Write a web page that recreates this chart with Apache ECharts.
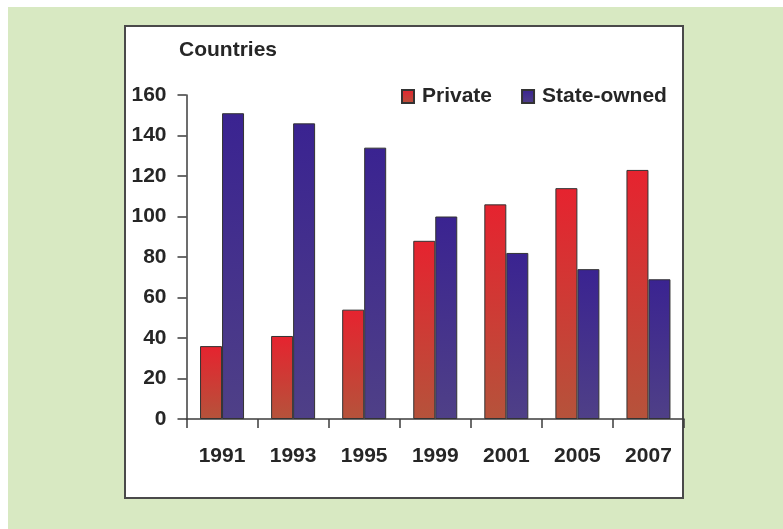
<!DOCTYPE html>
<html>
<head>
<meta charset="utf-8">
<script src="https://cdn.jsdelivr.net/npm/echarts@6/dist/echarts.min.js"></script>
<style>
  html, body { margin: 0; padding: 0; background: #ffffff; }
  #chart { width: 783px; height: 529px; }
</style>
</head>
<body>
<div id="chart"></div>
<script>
// Number of countries with private vs state-owned operators, by year
const years = ['1991', '1993', '1995', '1999', '2001', '2005', '2007'];
const privateCounts = [36, 41, 54, 88, 106, 114, 123];
const stateOwnedCounts = [151, 146, 134, 100, 82, 74, 69];
const yTicks = { min: 0, max: 160, interval: 20 };

const FONT = '"Liberation Sans", Arial, sans-serif';
const TEXT = '#262626';
const AXIS = '#3c3c3c';

const redFill = new echarts.graphic.LinearGradient(0, 0, 0, 1, [
  { offset: 0, color: '#e6232f' },
  { offset: 1, color: '#b5533b' }
]);
const blueFill = new echarts.graphic.LinearGradient(0, 0, 0, 1, [
  { offset: 0, color: '#3a2391' },
  { offset: 1, color: '#4f4087' }
]);

const chart = echarts.init(document.getElementById('chart'), null, { renderer: 'canvas' });

chart.setOption({
  animation: false,
  backgroundColor: '#ffffff',
  graphic: [
    { type: 'rect', z: -10, shape: { x: 8, y: 7, width: 775, height: 522 }, style: { fill: '#d8e9c2' } },
    { type: 'rect', z: -9, shape: { x: 125, y: 26, width: 558, height: 472 },
      style: { fill: '#ffffff', stroke: '#4a4a4a', lineWidth: 2 } },
    { type: 'text', left: 179, top: 40,
      style: { text: 'Countries', font: 'bold 21px ' + FONT, fill: TEXT } }
  ],
  legend: {
    left: 401, top: 86, padding: 0,
    itemWidth: 12, itemHeight: 13, itemGap: 29,
    icon: 'rect',
    textStyle: { fontFamily: FONT, fontWeight: 'bold', fontSize: 21, color: TEXT, padding: [0, 0, 0, 3] },
    data: ['Private', 'State-owned']
  },
  grid: { left: 186.5, right: 99, top: 95, bottom: 110, containLabel: false },
  xAxis: {
    type: 'category',
    data: years,
    boundaryGap: true,
    axisLine: { show: true, lineStyle: { color: AXIS, width: 1.5 } },
    axisTick: { show: true, alignWithLabel: false, interval: 0, length: 9, lineStyle: { color: AXIS, width: 1.5 } },
    axisLabel: { margin: 27, fontFamily: FONT, fontWeight: 'bold', fontSize: 21, color: TEXT }
  },
  yAxis: {
    type: 'value',
    min: yTicks.min, max: yTicks.max, interval: yTicks.interval,
    axisLine: { show: true, lineStyle: { color: AXIS, width: 1.5 } },
    axisTick: { show: true, length: 9, lineStyle: { color: AXIS, width: 1.5 } },
    splitLine: { show: false },
    axisLabel: { margin: 20, fontFamily: FONT, fontWeight: 'bold', fontSize: 21, color: TEXT }
  },
  series: [
    {
      name: 'Private', type: 'bar', data: privateCounts,
      barWidth: 22, barGap: '0%',
      itemStyle: { color: redFill, borderColor: '#333333', borderWidth: 1 }
    },
    {
      name: 'State-owned', type: 'bar', data: stateOwnedCounts,
      barWidth: 22, barGap: '0%',
      itemStyle: { color: blueFill, borderColor: '#333333', borderWidth: 1 }
    }
  ]
});
</script>
</body>
</html>
